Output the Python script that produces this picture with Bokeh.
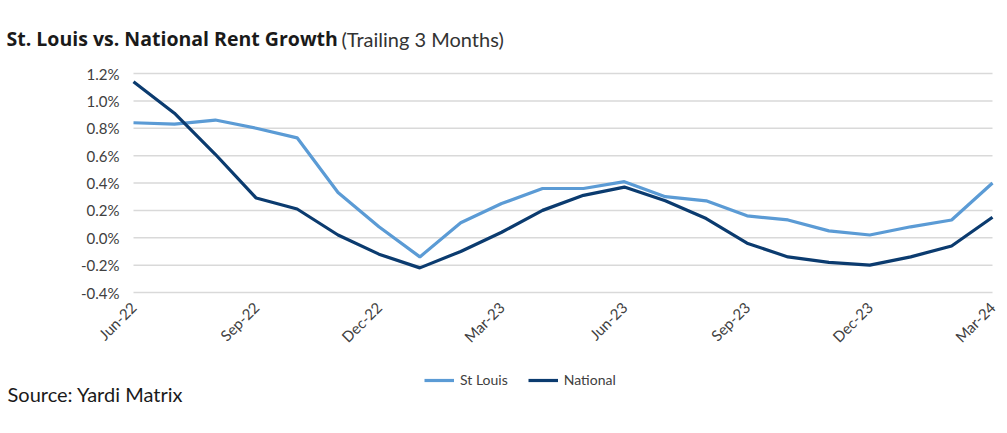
from bokeh.plotting import figure
from bokeh.models import Range1d, FixedTicker, Label, Legend, LegendItem, ColumnDataSource
from bokeh.embed import file_html
from bokeh.resources import INLINE
import math

# Trailing 3-month rent growth, %
months = ["Jun-22", "Jul-22", "Aug-22", "Sep-22", "Oct-22", "Nov-22", "Dec-22",
          "Jan-23", "Feb-23", "Mar-23", "Apr-23", "May-23", "Jun-23", "Jul-23",
          "Aug-23", "Sep-23", "Oct-23", "Nov-23", "Dec-23", "Jan-24", "Feb-24",
          "Mar-24"]
st_louis = [0.84, 0.83, 0.86, 0.80, 0.73, 0.33, 0.08, -0.14, 0.11, 0.25, 0.36,
            0.36, 0.41, 0.30, 0.27, 0.16, 0.13, 0.05, 0.02, 0.08, 0.13, 0.40]
national = [1.14, 0.91, 0.61, 0.29, 0.21, 0.02, -0.12, -0.22, -0.10, 0.04, 0.20,
            0.31, 0.37, 0.27, 0.14, -0.04, -0.14, -0.18, -0.20, -0.14, -0.06,
            0.15]
tick_labels = ["Jun-22", "Sep-22", "Dec-22", "Mar-23", "Jun-23", "Sep-23",
               "Dec-23", "Mar-24"]
y_ticks = [-0.4, -0.2, 0.0, 0.2, 0.4, 0.6, 0.8, 1.0, 1.2]
series_names = ["St Louis", "National"]

FONT = "Lato"
LIGHT = "#5b9bd5"
DARK = "#0b3b6f"
GRID = "#d9d9d9"
TICK_TEXT = "#404040"

# canvas and plotting-area geometry (pixels)
W, H = 1007, 433
AREA_L, AREA_R, AREA_T, AREA_B = 133, 992, 73, 292

# the frame fills the whole canvas; ranges are set so the data area sits
# inside it, leaving room for the heading, axes, legend and source note
n = len(months) - 1
px_x = (AREA_R - AREA_L) / n
y_lo, y_hi = y_ticks[0], y_ticks[-1]
px_y = (AREA_B - AREA_T) / (y_hi - y_lo)
x_range = Range1d(-AREA_L / px_x, n + (W - AREA_R) / px_x)
y_range = Range1d(y_lo - (H - AREA_B) / px_y, y_hi + AREA_T / px_y)

p = figure(width=W, height=H, output_backend="svg", toolbar_location=None,
           x_range=x_range, y_range=y_range, min_border=0)
p.outline_line_color = None
p.background_fill_color = "white"
p.border_fill_color = "white"
p.grid.visible = False

idx = list(range(len(months)))
src = ColumnDataSource(dict(x=idx, stl=st_louis, nat=national))

# horizontal gridlines across the data span
p.segment(x0=0, x1=n, y0=y_ticks, y1=y_ticks, line_color=GRID, line_width=1.5)

r1 = p.line("x", "stl", source=src, line_color=LIGHT, line_width=3.2)
r2 = p.line("x", "nat", source=src, line_color=DARK, line_width=3.2)

# x axis pinned to the bottom gridline
tick_pos = [months.index(t) for t in tick_labels]
p.xaxis.fixed_location = y_lo
p.xaxis.ticker = FixedTicker(ticks=tick_pos)
p.xaxis.major_label_overrides = {i: t for i, t in zip(tick_pos, tick_labels)}
p.xaxis.major_label_orientation = math.pi / 4
p.xaxis.axis_line_color = None
p.xaxis.major_tick_line_color = None
p.xaxis.minor_tick_line_color = None
p.xaxis.major_label_text_font = FONT
p.xaxis.major_label_text_font_size = "15px"
p.xaxis.major_label_text_color = TICK_TEXT
p.xaxis.major_label_standoff = 6

# y axis pinned to the first month
p.yaxis.fixed_location = 0
p.yaxis.ticker = FixedTicker(ticks=y_ticks)
p.yaxis.major_label_overrides = {v: f"{v:.1f}%" for v in y_ticks}
p.yaxis.axis_line_color = None
p.yaxis.major_tick_line_color = None
p.yaxis.minor_tick_line_color = None
p.yaxis.major_label_text_font = FONT
p.yaxis.major_label_text_font_size = "15px"
p.yaxis.major_label_text_color = TICK_TEXT
p.yaxis.major_label_standoff = 8

# legend under the chart
legend = Legend(items=[LegendItem(label=nm, renderers=[r])
                       for nm, r in zip(series_names, (r1, r2))],
                orientation="horizontal", location=(424, H - 388),
                padding=0, margin=0, spacing=20, label_standoff=6,
                glyph_width=30, glyph_height=14, label_height=14,
                label_text_font=FONT, label_text_font_size="14px",
                label_text_color=TICK_TEXT, border_line_color=None,
                background_fill_alpha=0)
p.add_layout(legend, "center")

# heading and source note
p.add_layout(Label(x=6, y=H - 38, x_units="screen", y_units="screen",
                   text="St. Louis vs. National Rent Growth",
                   text_font="Open Sans", text_font_style="bold",
                   text_font_size="19.5px", text_color="#1a1a1a",
                   text_baseline="alphabetic"))
p.add_layout(Label(x=341, y=H - 38, x_units="screen", y_units="screen",
                   text="(Trailing 3 Months)", text_font=FONT,
                   text_font_size="20px", text_color="#333333",
                   text_baseline="alphabetic"))
p.add_layout(Label(x=7, y=H - 393, x_units="screen", y_units="screen",
                   text="Source: Yardi Matrix", text_font=FONT,
                   text_font_size="20px", text_color="#1a1a1a",
                   text_baseline="alphabetic"))

open("out.html", "w").write(file_html(p, INLINE))
